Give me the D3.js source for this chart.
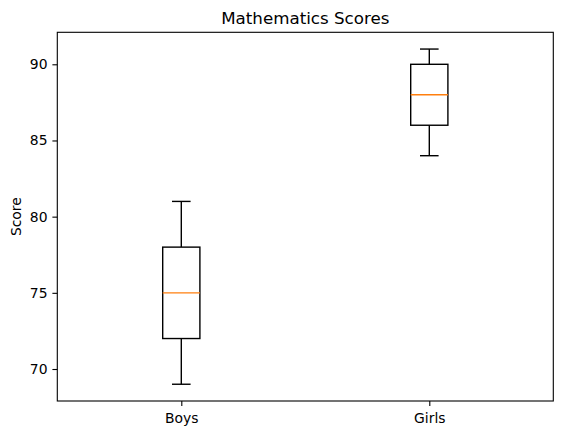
<!DOCTYPE html>
<html>
<head>
<meta charset="utf-8">
<script src="https://cdn.jsdelivr.net/npm/d3@7"></script>
<style>
  body { margin: 0; background: #fff; }
  svg { display: block; font-family: "DejaVu Sans", sans-serif; }
</style>
</head>
<body>
<svg id="chart" width="562" height="435"></svg>
<script>
const groups = ["Boys", "Girls"];
const whiskerLow = [69, 84];
const q1 = [72, 86];
const medians = [75, 88];
const q3 = [78, 90];
const whiskerHigh = [81, 91];
const yTicks = [70, 75, 80, 85, 90];

const width = 562, height = 435;
const margin = { top: 32.3, right: 8.7, bottom: 34, left: 57.3 };
const svg = d3.select("#chart");

const innerW = width - margin.left - margin.right;
const innerH = height - margin.top - margin.bottom;

const x = d3.scaleLinear().domain([0.5, 2.5]).range([0, innerW]);
const lo = d3.min(whiskerLow), hi = d3.max(whiskerHigh);
const pad = (hi - lo) * 0.05;
const y = d3.scaleLinear().domain([lo - pad, hi + pad]).range([innerH, 0]);

const g = svg.append("g").attr("transform", `translate(${margin.left},${margin.top})`);

const boxes = groups.map((name, i) => ({
  name, pos: i + 1,
  low: whiskerLow[i], q1: q1[i], med: medians[i], q3: q3[i], high: whiskerHigh[i],
}));

const boxW = 0.15, capW = 0.075;

// boxes
const bg = g.selectAll("g.box").data(boxes).join("g").attr("class", "box");

bg.append("line")
  .attr("x1", d => x(d.pos)).attr("x2", d => x(d.pos))
  .attr("y1", d => y(d.low)).attr("y2", d => y(d.q1))
  .attr("stroke", "#000").attr("stroke-width", 1.4);
bg.append("line")
  .attr("x1", d => x(d.pos)).attr("x2", d => x(d.pos))
  .attr("y1", d => y(d.q3)).attr("y2", d => y(d.high))
  .attr("stroke", "#000").attr("stroke-width", 1.4);
bg.append("line")
  .attr("x1", d => x(d.pos - capW / 2)).attr("x2", d => x(d.pos + capW / 2))
  .attr("y1", d => y(d.low)).attr("y2", d => y(d.low))
  .attr("stroke", "#000").attr("stroke-width", 1.4);
bg.append("line")
  .attr("x1", d => x(d.pos - capW / 2)).attr("x2", d => x(d.pos + capW / 2))
  .attr("y1", d => y(d.high)).attr("y2", d => y(d.high))
  .attr("stroke", "#000").attr("stroke-width", 1.4);
bg.append("rect")
  .attr("x", d => x(d.pos - boxW / 2))
  .attr("width", d => x(d.pos + boxW / 2) - x(d.pos - boxW / 2))
  .attr("y", d => y(d.q3))
  .attr("height", d => y(d.q1) - y(d.q3))
  .attr("fill", "none").attr("stroke", "#000").attr("stroke-width", 1.4);
bg.append("line")
  .attr("x1", d => x(d.pos - boxW / 2)).attr("x2", d => x(d.pos + boxW / 2))
  .attr("y1", d => y(d.med)).attr("y2", d => y(d.med))
  .attr("stroke", "#ff7f0e").attr("stroke-width", 1.4);

// axes
const yAxis = g.append("g")
  .call(d3.axisLeft(y).tickValues(yTicks).tickSize(4.9).tickPadding(4.9));
const xAxis = g.append("g").attr("transform", `translate(0,${innerH})`)
  .call(d3.axisBottom(x).tickValues(boxes.map(d => d.pos))
    .tickFormat((d, i) => groups[i]).tickSize(4.9).tickPadding(7.4));

[yAxis, xAxis].forEach(a => {
  a.select(".domain").remove();
  a.selectAll(".tick line").attr("stroke", "#000").attr("stroke-width", 1.1);
  a.selectAll("text").attr("fill", "#000").style("font-size", "13.9px")
    .style("font-family", "DejaVu Sans, sans-serif");
});

// frame
g.append("rect").attr("width", innerW).attr("height", innerH)
  .attr("fill", "none").attr("stroke", "#000").attr("stroke-width", 1.1);

// title + label
svg.append("text")
  .attr("x", margin.left + innerW / 2).attr("y", margin.top - 8)
  .attr("text-anchor", "middle").style("font-size", "16.7px")
  .text("Mathematics Scores");

svg.append("text")
  .attr("transform", `translate(21,${margin.top + innerH / 2}) rotate(-90)`)
  .attr("text-anchor", "middle").style("font-size", "13.9px")
  .text("Score");
</script>
</body>
</html>
